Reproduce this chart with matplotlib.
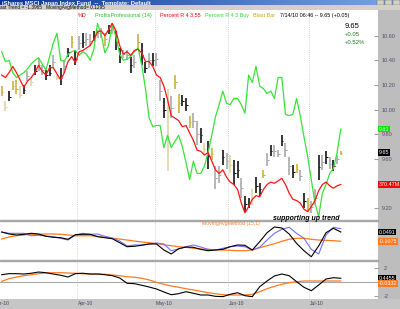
import matplotlib
matplotlib.use("Agg")
import matplotlib.pyplot as plt
import numpy as np
from matplotlib.patches import Rectangle
from matplotlib.transforms import blended_transform_factory as btf
from matplotlib.colors import LinearSegmentedColormap

plt.rcParams['font.family'] = ['Liberation Sans', 'DejaVu Sans']

# ---------------- data ----------------
months = ['Mar-10', 'Apr-10', 'May-10', 'Jun-10', 'Jul-10']
month_pos = [-2.5, 20.5, 41.5, 61.5, 83.5]

high = [10.19, 10.07, 10.15, 10.23, 10.24, 10.19, 10.20, 10.31, 10.26, 10.36,
        10.42, 10.36, 10.32, 10.36, 10.44, 10.28, 10.34, 10.40, 10.50, 10.60,
        10.48, 10.60, 10.62, 10.62, 10.61, 10.64, 10.65, 10.66, 10.62, 10.69,
        10.70, 10.64, 10.50, 10.48, 10.48, 10.43, 10.44, 10.61, 10.54, 10.39,
        10.46, 10.46, 10.46, 10.24, 10.09, 10.17, 10.11, 10.28, 10.13, 10.12,
        10.09, 9.95, 9.97, 9.91, 9.85, 9.73, 9.74, 9.69, 9.54, 9.54,
        9.67, 9.65, 9.63, 9.59, 9.58, 9.44, 9.30, 9.28, 9.35, 9.45,
        9.40, 9.51, 9.65, 9.71, 9.71, 9.67, 9.79, 9.73, 9.61, 9.55,
        9.56, 9.51, 9.32, 9.28, 9.26, 9.35, 9.63, 9.63, 9.66, 9.61,
        9.59, 9.63, 9.66]
low = [10.11, 9.99, 10.07, 10.16, 10.13, 10.09, 10.13, 10.23, 10.19, 10.28,
       10.31, 10.28, 10.24, 10.27, 10.34, 10.24, 10.20, 10.30, 10.43, 10.50,
       10.36, 10.48, 10.50, 10.52, 10.52, 10.56, 10.58, 10.58, 10.52, 10.61,
       10.61, 10.48, 10.38, 10.42, 10.40, 10.30, 10.34, 10.50, 10.36, 10.30,
       10.34, 10.35, 10.35, 10.07, 9.93, 9.50, 9.93, 10.17, 9.97, 10.03,
       9.99, 9.85, 9.85, 9.71, 9.73, 9.63, 9.52, 9.59, 9.35, 9.40,
       9.55, 9.52, 9.48, 9.39, 9.44, 9.28, 9.17, 9.20, 9.22, 9.32,
       9.30, 9.44, 9.54, 9.62, 9.61, 9.61, 9.70, 9.61, 9.47, 9.44,
       9.48, 9.42, 9.20, 9.17, 9.16, 9.22, 9.43, 9.51, 9.56, 9.52,
       9.50, 9.56, 9.63]
close = [10.14, 10.02, 10.10, 10.19, 10.17, 10.12, 10.16, 10.27, 10.22, 10.31,
         10.36, 10.32, 10.28, 10.30, 10.39, 10.26, 10.26, 10.35, 10.47, 10.55,
         10.41, 10.54, 10.55, 10.57, 10.56, 10.60, 10.62, 10.62, 10.57, 10.65,
         10.66, 10.55, 10.43, 10.45, 10.44, 10.36, 10.39, 10.55, 10.44, 10.34,
         10.40, 10.40, 10.41, 10.15, 10.00, 9.95, 10.01, 10.22, 10.05, 10.07,
         10.04, 9.90, 9.91, 9.80, 9.79, 9.68, 9.62, 9.64, 9.44, 9.47,
         9.61, 9.58, 9.55, 9.48, 9.51, 9.36, 9.23, 9.24, 9.28, 9.38,
         9.35, 9.47, 9.59, 9.66, 9.66, 9.64, 9.74, 9.67, 9.54, 9.49,
         9.52, 9.46, 9.26, 9.22, 9.21, 9.28, 9.53, 9.57, 9.61, 9.56,
         9.54, 9.60, 9.65]
bar_codes = list("otkootkgtk" "ggkkgtkgko" "kgkggkggok" "gkkggkgokk" "gkggktgook"
                 "koggktkogg" "kgtkkgkktk" "kogkggkggk" "ogkoggkgkg" "kgo")

red_line = [10.28, 10.26, 10.30, 10.35, 10.30, 10.24, 10.18, 10.23, 10.26, 10.30,
            10.36, 10.31, 10.28, 10.34, 10.34, 10.29, 10.24, 10.30, 10.39, 10.43,
            10.38, 10.47, 10.48, 10.50, 10.52, 10.57, 10.63, 10.64, 10.60, 10.65,
            10.70, 10.64, 10.52, 10.45, 10.47, 10.44, 10.48, 10.49, 10.46, 10.39,
            10.39, 10.35, 10.28, 10.26, 10.19, 10.08, 9.95, 9.93, 9.91, 9.86,
            9.87, 9.81, 9.75, 9.67, 9.66, 9.63, 9.65, 9.58, 9.51, 9.48,
            9.51, 9.45, 9.41, 9.39, 9.35, 9.24, 9.16, 9.21, 9.27, 9.30,
            9.29, 9.35, 9.39, 9.41, 9.40, 9.42, 9.44, 9.39, 9.32, 9.27,
            9.26, 9.24, 9.19, 9.17, 9.21, 9.26, 9.34, 9.39, 9.41, 9.38,
            9.36, 9.38, 9.39]
green_line = [10.47, 10.39, 10.40, 10.30, 10.26, 10.28, 10.30, 10.33, 10.37, 10.40,
              10.42, 10.37, 10.32, 10.43, 10.54, 10.62, 10.40, 10.39, 10.45, 10.47,
              10.48, 10.44, 10.47, 10.45, 10.40, 10.49, 10.70, 10.61, 10.46, 10.52,
              10.69, 10.59, 10.45, 10.40, 10.41, 10.43, 10.47, 10.50, 10.36, 10.17,
              9.93, 9.86, 9.87, 9.87, 9.69, 9.79, 9.69, 9.74, 9.79, 9.70,
              9.57, 9.43, 9.58, 9.48, 9.48, 9.54, 9.65, 9.79, 9.94, 10.04,
              10.15, 10.05, 10.04, 10.09, 10.09, 10.04, 9.97, 10.28, 10.22, 10.35,
              10.19, 10.17, 10.13, 10.15, 10.09, 10.26, 10.26, 9.96, 9.95, 9.96,
              10.09, 9.95, 9.78, 9.62, 9.43, 9.24, 9.13, 9.32, 9.39, 9.48,
              9.52, 9.65, 9.84]
price_ticks = [10.60, 10.40, 10.20, 10.00, 9.80, 9.60, 9.20]

# indicator panels, sampled every second bar (bars 0, 2, ..., 92)
p2_black = [0.049, 0.017, 0.001, 0.012, 0.028, 0.017, -0.020, -0.036, -0.043, -0.068,
            0.006, 0.012, 0.012, -0.027, -0.043, -0.059, -0.123, -0.188, -0.181, -0.165,
            -0.144, -0.144, -0.241, -0.305, -0.220, -0.193, -0.197, -0.230, -0.252, -0.241,
            -0.230, -0.188, -0.160, -0.165, -0.241, -0.107, 0.038, 0.130, 0.114, 0.017,
            -0.133, -0.252, -0.349, -0.176, 0.038, 0.109, 0.049]
p2_blue = [0.049, 0.028, 0.028, 0.028, -0.011, -0.004, -0.015, -0.027, -0.052, -0.080,
           0.001, 0.028, 0.012, 0.017, -0.020, -0.048, -0.096, -0.176, -0.160, -0.160,
           -0.144, -0.128, -0.144, -0.252, -0.225, -0.188, -0.160, -0.193, -0.230, -0.241,
           -0.213, -0.188, -0.176, -0.188, -0.241, -0.197, -0.080, 0.028, 0.093, 0.125,
           0.028, -0.052, -0.230, -0.305, 0.001, 0.125, 0.102]
p2_orange = [-0.064, -0.031, -0.011, 0.001, 0.012, 0.012, 0.017, 0.017, 0.012, 0.001,
             -0.011, -0.011, -0.011, -0.020, -0.036, -0.052, -0.064, -0.080, -0.096, -0.112,
             -0.123, -0.139, -0.155, -0.172, -0.188, -0.197, -0.213, -0.225, -0.230, -0.236,
             -0.241, -0.246, -0.252, -0.252, -0.241, -0.204, -0.172, -0.139, -0.101, -0.068,
             -0.052, -0.052, -0.068, -0.080, -0.085, -0.091, -0.100]
p3_black = [1.04, 1.19, 1.19, 1.14, 1.25, 1.43, 1.33, 1.14, 0.96, 0.71,
            1.19, 1.25, 1.14, 1.14, 1.04, 0.90, 0.57, -0.20, -0.26, -0.49,
            -0.74, -1.03, -1.46, -1.86, -1.71, -1.42, -1.65, -1.90, -1.90, -2.09,
            -2.14, -1.80, -1.57, -2.00, -2.14, -0.70, 0.13, 0.86, 1.14, 0.90,
            0.03, -0.78, -1.28, -0.45, 0.42, 0.61, 0.52]
p3_orange = [0.09, 0.46, 0.71, 0.90, 1.04, 1.19, 1.29, 1.33, 1.33, 1.29,
             1.25, 1.19, 1.14, 1.14, 1.10, 1.00, 0.90, 0.75, 0.67, 0.52,
             0.28, -0.06, -0.35, -0.59, -0.78, -0.99, -1.17, -1.36, -1.57, -1.71,
             -1.86, -1.90, -1.90, -1.90, -1.80, -1.42, -0.99, -0.64, -0.35, -0.12,
             0.03, 0.13, 0.13, 0.13, 0.13, 0.13, 0.13]
p3_ticks = [2, -2]

# ---------------- figure ----------------
W, H = 400.0, 309.0
fig = plt.figure(figsize=(4.0, 3.09), dpi=100)
fig.patch.set_facecolor('white')


def rect(x0, y0, x1, y1, zorder=-10, **kw):
    fig.patches.append(Rectangle((x0 / W, 1 - y1 / H), (x1 - x0) / W, (y1 - y0) / H,
                                 transform=fig.transFigure, figure=fig, zorder=zorder, **kw))


def axes_px(x0, y0, x1, y1, **kw):
    return fig.add_axes([x0 / W, 1 - y1 / H, (x1 - x0) / W, (y1 - y0) / H], **kw)


# backgrounds
rect(378, 9.5, 400, 309, color='#bdbdbd')
rect(0, 299, 400, 309, color='#c6c6c6')

# title bar
axt = axes_px(0, 0, 400, 4.8)
grad = np.linspace(0, 1, 256).reshape(1, -1)
axt.imshow(grad, aspect='auto', cmap=LinearSegmentedColormap.from_list('tb', ['#0a3496', '#7aa6e6']),
           extent=(0, 1, 0, 1))
axt.set_xlim(0, 1); axt.set_ylim(0, 1); axt.axis('off')
axt.text(0.005, 0.3, 'iShares MSCI Japan Index Fund  --  Template: Default', color='white',
         fontsize=4.2, fontweight='bold', va='center', ha='left', clip_on=True)
for bx in (377, 385, 393):
    axt.add_patch(Rectangle(((bx) / W, 0.05), 6.5 / W, 0.9, transform=axt.transAxes,
                            fc='#d4d0c8', ec='#606060', lw=0.3))

# second bar
axs = axes_px(0, 4.8, 400, 9.5)
axs.set_facecolor('#d4d0c8')
axs.set_xticks([]); axs.set_yticks([])
for s in axs.spines.values():
    s.set_visible(False)
axs.text(0.0, 0.45, 'ast Trend = -1.3965   MovingAvgMethod= 0.1295', fontsize=3.4,
         va='center', ha='left', transform=axs.transAxes, clip_on=True)

xlim = (-0.46, 102.1)
x = np.arange(len(high))
x2 = np.arange(0, len(high), 2)

ax = axes_px(0, 9.5, 378, 220.7)
ax2 = axes_px(0, 220.7, 378, 260.7)
ax3 = axes_px(0, 260.7, 378, 299)
for a in (ax, ax2, ax3):
    a.set_xlim(*xlim)
    a.set_facecolor('white')
    for s in a.spines.values():
        s.set_visible(False)
    a.set_xticks([])
    for mp in month_pos[1:]:
        a.axvline(mp, color='#c4c4c4', ls=(0, (1, 1.5)), lw=0.6, zorder=0)

# main price panel
ax.set_ylim(9.096, 10.813)
cmap = {'k': '#000000', 'g': '#a3a3a3', 'o': '#c9ab2c', 't': '#dccf9e'}
cols = [cmap[c] for c in bar_codes]
ax.vlines(x, low, high, colors=cols, lw=1.1, zorder=2)
ax.hlines(close, x, x + 0.45, colors=cols, lw=0.7, zorder=2)
ax.plot(x, green_line, color='#39e239', lw=0.9, zorder=3)
ax.plot(x, red_line, color='#ff1414', lw=0.9, zorder=3)
ax.yaxis.tick_right()
ax.set_yticks(price_ticks)
ax.set_yticklabels(['%.2f' % v for v in price_ticks])
ax.tick_params(axis='y', direction='in', length=3, width=0.5, color='#7070a0', pad=2.5,
               labelsize=4, labelcolor='#505070')

# panel 2
ax2.set_ylim(-0.413, 0.231)
ax2.plot(x2, p2_orange, color='#ff7a1f', lw=0.9, zorder=2)
ax2.plot(x2, p2_blue, color='#7070ff', lw=0.8, zorder=3)
ax2.plot(x2, p2_black, color='#000000', lw=0.8, zorder=4)
ax2.set_yticks([])

# panel 3
ax3.set_ylim(-2.48, 3.07)
ax3.axhline(0, color='#a8a8a8', lw=0.8, zorder=1)
ax3.plot(x2, p3_orange, color='#ff7a1f', lw=0.9, zorder=2)
ax3.plot(x2, p3_black, color='#000000', lw=0.8, zorder=3)
ax3.yaxis.tick_right()
ax3.set_yticks(p3_ticks)
ax3.set_yticklabels([str(v) for v in p3_ticks])
ax3.tick_params(axis='y', direction='in', length=3, width=0.5, color='#7070a0', pad=4,
                labelsize=4, labelcolor='#505070')

# separators
rect(0, 220.2, 378, 221.2, zorder=5, color='#a8a8a8')
rect(0, 260.2, 378, 261.2, zorder=5, color='#a8a8a8')

# month labels
tr = btf(ax3.transData, fig.transFigure)
for mp, m in zip(month_pos, months):
    ax3.text(mp + 0.2, 1 - 303.8 / H, m, transform=tr, fontsize=3.6, color='#404060',
             ha='left', va='center', clip_on=False)


def box(axis, yval, text, fc, tc='white'):
    axis.text(1.002, yval, text, transform=btf(axis.transAxes, axis.transData), ha='left',
              va='center', fontsize=3.9, color=tc, clip_on=False, zorder=10,
              bbox=dict(boxstyle='square,pad=0.15', fc=fc, ec='none'))


box(ax, green_line[-1], '9.81', '#00e600')
box(ax, close[-1], '9.65', '#000000')
box(ax, red_line[-1], '370.47M', '#ff0000')
box(ax2, p2_black[-1], '0.0491', '#000000')
box(ax2, p2_orange[-1], '-0.1075', '#ff7a1f')
box(ax3, p3_black[-1], '0.4455', '#000000')
box(ax3, p3_orange[-1] - 0.35, '-0.0332', '#ff7a1f')

# legend row
legend = [(78, '%D', '#ff0000'), (95, 'ProfitsProfessional (14)', '#22c422'),
          (160, 'Percent R 4 3.55', '#ff0000'), (205, 'Percent R 4 3 Buy', '#33dd33'),
          (253, 'Blast Bar', '#c8a800'), (280, '7/14/10 06:46 -- 9.65 (+0.05)', '#000000')]
for lx, t, c in legend:
    fig.text(lx / W, 1 - 15.5 / H, t, color=c, fontsize=3.9, ha='left', va='center')

# last-price readout
fig.text(345 / W, 1 - 26 / H, '9.65', fontsize=5.5, color='#000000', ha='left', va='center')
fig.text(345 / W, 1 - 35 / H, '+0.05', fontsize=4.3, color='#1a7a1a', ha='left', va='center')
fig.text(345 / W, 1 - 43 / H, '+0.52%', fontsize=4.3, color='#1a7a1a', ha='left', va='center')

# annotations
fig.text(273 / W, 1 - 218.5 / H, 'supporting up trend', fontsize=5, fontstyle='italic',
         fontweight='bold', color='#000000', ha='left', va='center', zorder=20)
fig.text(202 / W, 1 - 223.5 / H, 'MovingAvgMethod (15,1)', fontsize=3.7, color='#ff7a1f',
         ha='left', va='center', zorder=20)

fig.savefig('out.png', dpi=100)
